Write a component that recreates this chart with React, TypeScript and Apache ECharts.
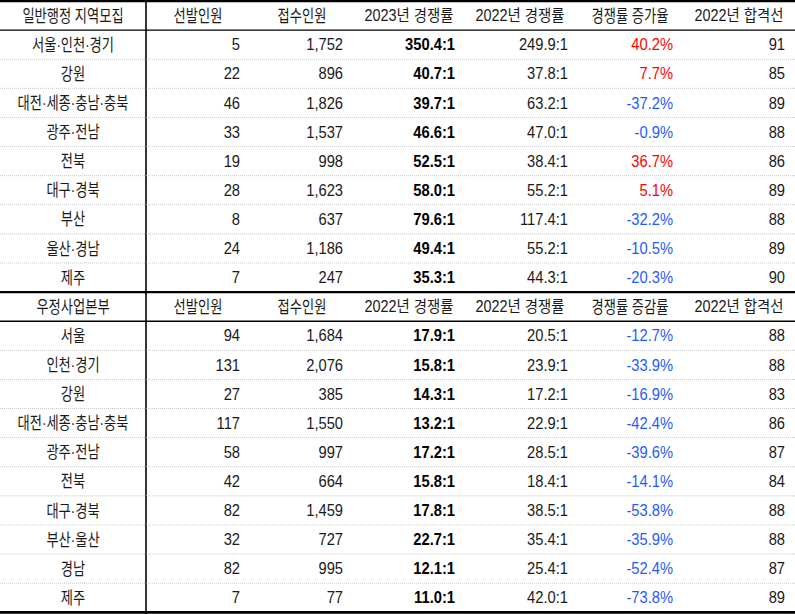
import React, { useEffect, useRef } from "react";
import * as echarts from "echarts";

// ---- data ----
const generalHeaders = ["일반행정 지역모집", "선발인원", "접수인원", "2023년 경쟁률", "2022년 경쟁률", "경쟁률 증가율", "2022년 합격선"];
const generalRegions = ["서울·인천·경기", "강원", "대전·세종·충남·충북", "광주·전남", "전북", "대구·경북", "부산", "울산·경남", "제주"];
const generalSelected = [5, 22, 46, 33, 19, 28, 8, 24, 7];
const generalApplicants = [1752, 896, 1826, 1537, 998, 1623, 637, 1186, 247];
const generalRateNew = [350.4, 40.7, 39.7, 46.6, 52.5, 58.0, 79.6, 49.4, 35.3];
const generalRateOld = [249.9, 37.8, 63.2, 47.0, 38.4, 55.2, 117.4, 55.2, 44.3];
const generalChange = [40.2, 7.7, -37.2, -0.9, 36.7, 5.1, -32.2, -10.5, -20.3];
const generalCutoff = [91, 85, 89, 88, 86, 89, 88, 89, 90];

const postalHeaders = ["우정사업본부", "선발인원", "접수인원", "2022년 경쟁률", "2022년 경쟁률", "경쟁률 증감률", "2022년 합격선"];
const postalRegions = ["서울", "인천·경기", "강원", "대전·세종·충남·충북", "광주·전남", "전북", "대구·경북", "부산·울산", "경남", "제주"];
const postalSelected = [94, 131, 27, 117, 58, 42, 82, 32, 82, 7];
const postalApplicants = [1684, 2076, 385, 1550, 997, 664, 1459, 727, 995, 77];
const postalRateNew = [17.9, 15.8, 14.3, 13.2, 17.2, 15.8, 17.8, 22.7, 12.1, 11.0];
const postalRateOld = [20.5, 23.9, 17.2, 22.9, 28.5, 18.4, 38.5, 35.4, 25.4, 42.0];
const postalChange = [-12.7, -33.9, -16.9, -42.4, -39.6, -14.1, -53.8, -35.9, -52.4, -73.8];
const postalCutoff = [88, 88, 83, 86, 87, 84, 88, 88, 87, 89];

// ---- layout (not data) ----
const W = 795;
const H = 614;
const HEADER_CENTERS = [73, 198, 302, 409, 520, 630, 739];
const VALUE_RIGHTS = [240, 343, 455, 568, 673, 785];
const DIVIDER_X = 146;
const FONT = "'Liberation Sans', 'Noto Sans CJK KR', sans-serif";
const TEXT = "#1a1a1a";
const RED = "#ff0000";
const BLUE = "#1f5bff";

type Cell = { text: string; color: string; bold?: boolean };
type Row = { kind: "header" | "body"; cells: Cell[]; bottom: "thin" | "dot" | "thick" };

const fmtInt = (v: number) => v.toLocaleString("en-US");
const fmtRate = (v: number) => `${v.toFixed(1)}:1`;
const fmtPct = (v: number) => `${v.toFixed(1)}%`;

function buildGroup(headers: string[], regions: string[], sel: number[], app: number[], rNew: number[], rOld: number[], chg: number[], cut: number[]): Row[] {
  const rows: Row[] = [];
  rows.push({ kind: "header", cells: headers.map((h) => ({ text: h, color: TEXT })), bottom: "thin" });
  regions.forEach((r, i) => {
    rows.push({
      kind: "body",
      cells: [
        { text: r, color: TEXT },
        { text: fmtInt(sel[i]), color: TEXT },
        { text: fmtInt(app[i]), color: TEXT },
        { text: fmtRate(rNew[i]), color: "#000", bold: true },
        { text: fmtRate(rOld[i]), color: TEXT },
        { text: fmtPct(chg[i]), color: chg[i] > 0 ? RED : BLUE },
        { text: fmtInt(cut[i]), color: TEXT },
      ],
      bottom: i === regions.length - 1 ? "thick" : "dot",
    });
  });
  return rows;
}

const ROWS: Row[] = [
  ...buildGroup(generalHeaders, generalRegions, generalSelected, generalApplicants, generalRateNew, generalRateOld, generalChange, generalCutoff),
  ...buildGroup(postalHeaders, postalRegions, postalSelected, postalApplicants, postalRateNew, postalRateOld, postalChange, postalCutoff),
];

function textEl(text: string, x: number, y: number, align: string, color: string, bold?: boolean) {
  const hasDigit = /[0-9]/.test(text);
  const hasHangul = /[\uac00-\ud7a3]/.test(text);
  let fontSize = 16;
  let scaleX = 0.92;
  if (hasHangul && !hasDigit) {
    fontSize = 17;
    scaleX = 0.78;
  } else if (hasHangul && hasDigit) {
    fontSize = 16;
    scaleX = 0.9;
  }
  return {
    type: "text",
    x,
    y,
    scaleX,
    silent: true,
    style: {
      text,
      x: 0,
      y: 0,
      fill: color,
      align,
      verticalAlign: "middle",
      fontSize,
      fontFamily: FONT,
      fontWeight: bold ? "bold" : "normal",
    },
  };
}

export default function App() {
  const ref = useRef<HTMLDivElement>(null);
  useEffect(() => {
    if (!ref.current) return;
    const chart = echarts.init(ref.current, undefined, { renderer: "svg" });
    const n = ROWS.length;
    chart.setOption({
      animation: false,
      backgroundColor: "#fff",
      grid: { left: 0, right: 0, top: 1, bottom: 1.7 },
      xAxis: { type: "value", min: 0, max: W, show: false },
      yAxis: { type: "category", inverse: true, show: false, data: ROWS.map((_, i) => String(i)) },
      series: [
        {
          type: "custom",
          coordinateSystem: "cartesian2d",
          clip: false,
          data: ROWS.map((_, i) => [0, i]),
          encode: { x: 0, y: 1 },
          renderItem: (params: any, api: any) => {
            const i = api.value(1);
            const row = ROWS[i];
            const c = api.coord([0, i]);
            const bandH = api.size([0, 1])[1];
            const cy = c[1];
            const top = cy - bandH / 2;
            const bottom = cy + bandH / 2;
            const xOf = (v: number) => api.coord([v, i])[0];
            const children: any[] = [];
            children.push({
              type: "line",
              silent: true,
              shape: { x1: xOf(DIVIDER_X), y1: i === 0 ? 0 : top, x2: xOf(DIVIDER_X), y2: i === n - 1 ? H : bottom },
              style: { stroke: "#000", lineWidth: 1.6 },
            });
            if (i === 0) {
              children.push({
                type: "line",
                silent: true,
                shape: { x1: xOf(0), y1: top, x2: xOf(W), y2: top },
                style: { stroke: "#000", lineWidth: 2.6 },
              });
            }
            const b = row.bottom;
            children.push({
              type: "line",
              silent: true,
              shape: { x1: xOf(0), y1: bottom, x2: xOf(W), y2: bottom },
              style:
                b === "dot"
                  ? { stroke: "#c8c8c8", lineWidth: 1, lineDash: [1, 1] }
                  : b === "thin"
                  ? { stroke: "#000", lineWidth: 1.4 }
                  : { stroke: "#000", lineWidth: i === n - 1 ? 2.8 : 2.2 },
            });
            row.cells.forEach((cell, k) => {
              if (row.kind === "header" || k === 0) {
                children.push(textEl(cell.text, xOf(HEADER_CENTERS[k]), cy, "center", cell.color, cell.bold));
              } else {
                children.push(textEl(cell.text, xOf(VALUE_RIGHTS[k - 1]), cy, "right", cell.color, cell.bold));
              }
            });
            return { type: "group", children };
          },
        },
      ],
    });
    return () => chart.dispose();
  }, []);
  return <div ref={ref} style={{ position: "absolute", left: 0, top: 0, width: W, height: H, background: "#fff" }} />;
}
